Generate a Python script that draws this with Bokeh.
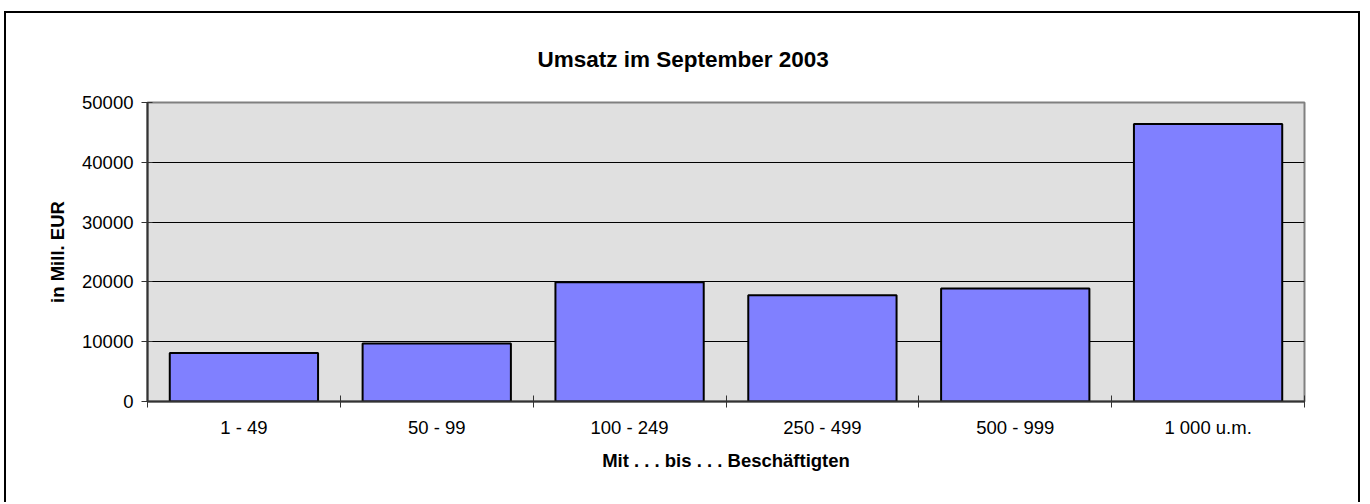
from bokeh.plotting import figure
from bokeh.models import Range1d, FixedTicker, ColumnDataSource
from bokeh.embed import file_html
from bokeh.resources import INLINE

# ---- data ----
categories = ["1 - 49", "50 - 99", "100 - 249", "250 - 499", "500 - 999", "1 000 u.m."]
umsatz = [8100, 9700, 19950, 17750, 18900, 46400]
y_ticks = [0, 10000, 20000, 30000, 40000, 50000]
y_tick_labels = ["0", "10000", "20000", "30000", "40000", "50000"]
title_text = "Umsatz im September 2003"
x_title = "Mit . . . bis . . . Beschäftigten"
y_title = "in Mill. EUR"

FONT = "Liberation Sans"
FS = "18.5px"

x_pos = [i + 0.5 for i in range(len(categories))]
boundaries = list(range(len(categories) + 1))
source = ColumnDataSource(dict(x=x_pos, top=umsatz, cat=categories))

# host at (4, 11), 2px border -> canvas content origin at (6, 13)
p = figure(width=1356, height=491,
           x_range=Range1d(0, len(categories)), y_range=Range1d(y_ticks[0], y_ticks[-1]),
           output_backend="svg", toolbar_location=None,
           min_border_left=141, min_border_right=58,
           min_border_top=89, min_border_bottom=103)
p.styles = {"margin-left": "4px", "margin-top": "11px",
            "border-left": "2px solid black", "border-top": "2px solid black",
            "border-right": "2px solid black"}

p.background_fill_color = "#E0E0E0"
p.border_fill_color = "white"
p.outline_line_color = "#808080"
p.outline_line_width = 2

p.vbar(x="x", top="top", width=0.769, bottom=0, source=source,
       fill_color="#8080FF", line_color="black", line_width=2)

# title
p.title.text = title_text
p.title.align = "left"
p.title.offset = 390
p.title.standoff = 61
p.title.text_font = FONT
p.title.text_font_size = "22.5px"
p.title.text_font_style = "bold"
p.title.text_color = "black"

# grid
p.xgrid.visible = False
p.ygrid.ticker = FixedTicker(ticks=y_ticks)
p.ygrid.grid_line_color = "#000000"
p.ygrid.grid_line_width = 1

# x axis
xa = p.xaxis[0]
xa.ticker = FixedTicker(ticks=x_pos, minor_ticks=boundaries)
xa.major_label_overrides = {x: c for x, c in zip(x_pos, categories)}
xa.major_tick_in = 0
xa.major_tick_out = 0
xa.minor_tick_in = 6
xa.minor_tick_out = 6
xa.minor_tick_line_color = "#333333"
xa.minor_tick_line_width = 1
xa.axis_line_color = "#333333"
xa.axis_line_width = 2
xa.major_label_text_font = FONT
xa.major_label_text_font_size = FS
xa.major_label_text_color = "black"
xa.major_label_standoff = 9
xa.axis_label = x_title
xa.axis_label_text_font = FONT
xa.axis_label_text_font_size = FS
xa.axis_label_text_font_style = "bold"
xa.axis_label_text_color = "black"
xa.axis_label_standoff = 9

# y axis
ya = p.yaxis[0]
ya.ticker = FixedTicker(ticks=y_ticks)
ya.major_label_overrides = {t: l for t, l in zip(y_ticks, y_tick_labels)}
ya.major_tick_in = 5
ya.major_tick_out = 6
ya.minor_tick_in = 0
ya.minor_tick_out = 0
ya.major_tick_line_color = "#333333"
ya.axis_line_color = "#333333"
ya.axis_line_width = 2
ya.major_label_text_font = FONT
ya.major_label_text_font_size = FS
ya.major_label_text_color = "black"
ya.major_label_standoff = 8
ya.axis_label = y_title
ya.axis_label_text_font = FONT
ya.axis_label_text_font_size = FS
ya.axis_label_text_font_style = "bold"
ya.axis_label_text_color = "black"
ya.axis_label_standoff = 11

open("out.html", "w").write(file_html(p, INLINE))
